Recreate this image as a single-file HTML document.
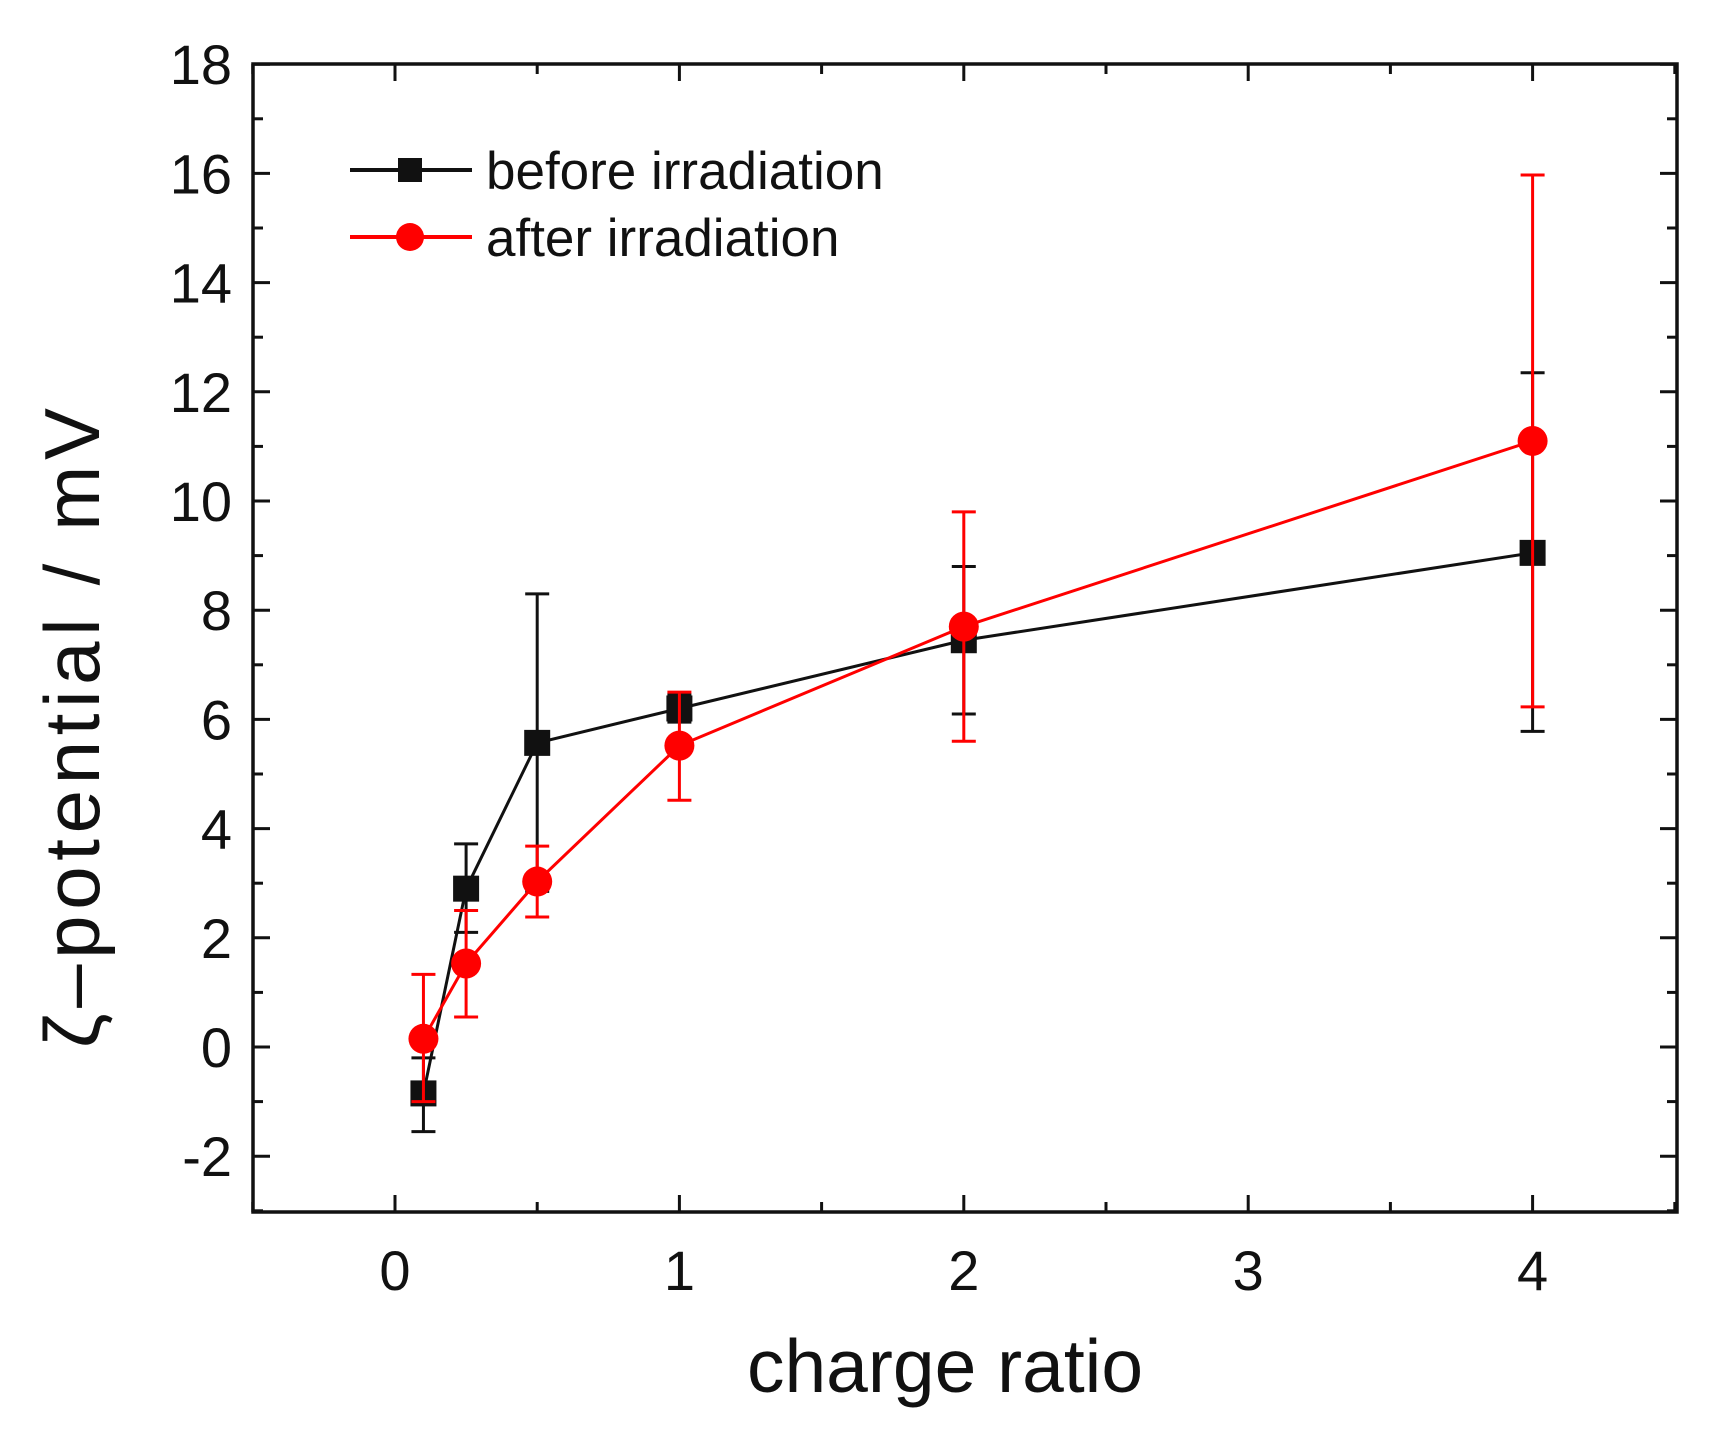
<!DOCTYPE html>
<html><head><meta charset="utf-8"><style>
html,body{margin:0;padding:0;background:#fff;}
svg text{font-family:"Liberation Sans",Arial,sans-serif;fill:#111;}
</style></head><body>
<svg id="chart" width="1715" height="1427" xmlns="http://www.w3.org/2000/svg">
<g id="axes"></g><g id="series"></g><g id="legend"></g>
</svg>
<script>
const categories=[0.1,0.25,0.5,1,2,4];
const beforeVals=[-0.85,2.9,5.57,6.2,7.45,9.05];
const beforeUp=[-0.2,3.72,8.3,6.45,8.8,12.35];
const beforeDown=[-1.55,2.1,2.85,5.95,6.1,5.78];
const afterVals=[0.15,1.53,3.03,5.52,7.7,11.1];
const afterUp=[1.33,2.5,3.68,6.5,9.8,15.97];
const afterDown=[-1.0,0.55,2.38,4.52,5.6,6.23];
const xTicks=[0,1,2,3,4];
const yTicks=[-2,0,2,4,6,8,10,12,14,16,18];

const L=253,R=1677,T=64,B=1212;
const X=v=>395+v*284.4;
const Y=v=>1047-v*54.6;
const NS="http://www.w3.org/2000/svg";
function mk(tag,attrs,parent,txt){const e=document.createElementNS(NS,tag);for(const k in attrs)e.setAttribute(k,attrs[k]);if(txt!==undefined)e.textContent=txt;parent.appendChild(e);return e;}
const ax=document.getElementById('axes'),se=document.getElementById('series'),lg=document.getElementById('legend');

let frame=mk('rect',{x:L,y:T,width:R-L,height:B-T,fill:'none',stroke:'#111','stroke-width':3.5},ax);



for(let v=-0.5;v<=4.51;v+=0.5){
  const major=Number.isInteger(v);const len=major?17:10;
  mk('line',{x1:X(v),x2:X(v),y1:B,y2:B-len,stroke:'#111','stroke-width':3},ax);
  mk('line',{x1:X(v),x2:X(v),y1:T,y2:T+len,stroke:'#111','stroke-width':3},ax);
}
xTicks.forEach(v=>{
  const t=mk('text',{x:X(v),y:1290,'text-anchor':'middle','font-size':56},ax,String(v));
  
  
});
for(let v=-3;v<=18;v+=1){
  const major=(v%2===0);const len=major?17:10;
  mk('line',{x1:L,x2:L+len,y1:Y(v),y2:Y(v),stroke:'#111','stroke-width':3},ax);
  mk('line',{x1:R,x2:R-len,y1:Y(v),y2:Y(v),stroke:'#111','stroke-width':3},ax);
}
yTicks.forEach(v=>{
  const t=mk('text',{x:232,y:Y(v)+20,'text-anchor':'end','font-size':56},ax,String(v));
  
  
});
let xt=mk('text',{x:945,y:1392,'text-anchor':'middle','font-size':75},ax,'charge ratio');


let yt=mk('text',{x:0,y:0,'text-anchor':'middle','font-size':78,textLength:640,lengthAdjust:'spacing',transform:'translate(99,728) rotate(-90)'},ax,'ζ–potential / mV');



function drawSeries(vals,up,dn,color,shape,name){
  const g=mk('g',{},se);
  
  
  categories.forEach((c,i)=>{
    const x=X(c);
    const eb=mk('g',{stroke:color,'stroke-width':3},g);
    
    
    mk('line',{x1:x,x2:x,y1:Y(up[i]),y2:Y(dn[i])},eb);
    mk('line',{x1:x-12,x2:x+12,y1:Y(up[i]),y2:Y(up[i])},eb);
    mk('line',{x1:x-12,x2:x+12,y1:Y(dn[i]),y2:Y(dn[i])},eb);
  });
  const pts=categories.map((c,i)=>X(c)+','+Y(vals[i])).join(' ');
  const pl=mk('polyline',{points:pts,fill:'none',stroke:color,'stroke-width':3},g);
  
  
  categories.forEach((c,i)=>{
    let m;
    if(shape==='sq') m=mk('rect',{x:X(c)-13,y:Y(vals[i])-13,width:26,height:26,fill:color},g);
    else m=mk('circle',{cx:X(c),cy:Y(vals[i]),r:15,fill:color},g);
    
    
  });
}
drawSeries(beforeVals,beforeUp,beforeDown,'#111','sq','before');
drawSeries(afterVals,afterUp,afterDown,'#ff0000','ci','after');

function legendEntry(y,color,shape,label,name){
  const g=mk('g',{},lg);
  
  
  mk('line',{x1:350,x2:472,y1:y,y2:y,stroke:color,'stroke-width':4},g);
  if(shape==='sq') mk('rect',{x:398,y:y-12,width:24,height:24,fill:color},g);
  else mk('circle',{cx:410,cy:y,r:14,fill:color},g);
  mk('text',{x:486,y:y+19,'font-size':53},g,label);
}
legendEntry(170,'#111','sq','before irradiation','legend-entry-before');
legendEntry(237,'#ff0000','ci','after irradiation','legend-entry-after');
</script>
</body></html>
